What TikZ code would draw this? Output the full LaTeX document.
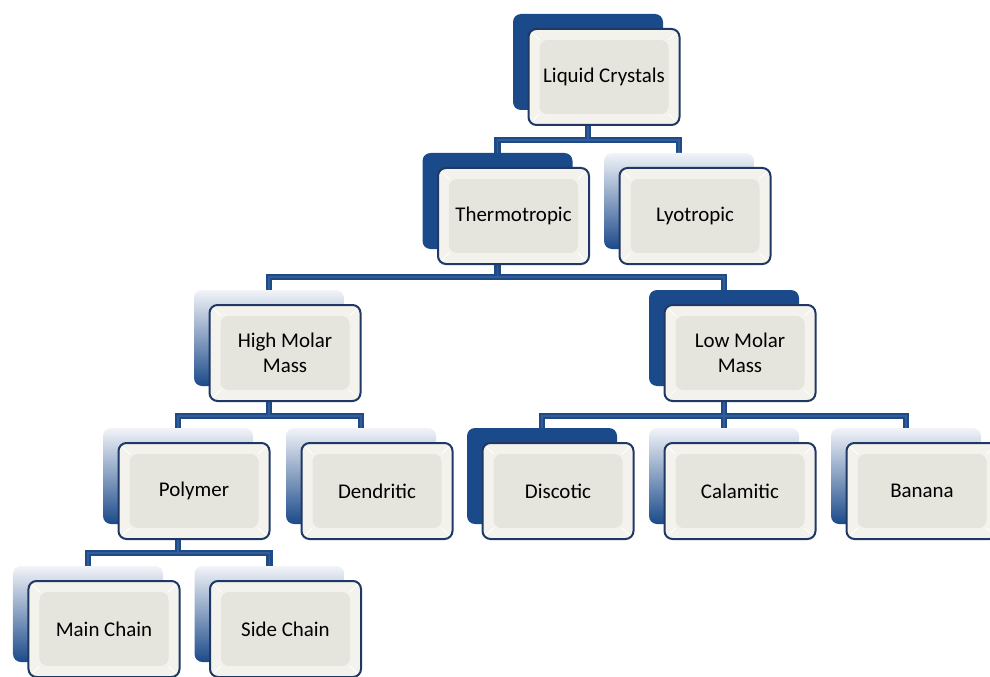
\documentclass[tikz,border=0pt]{standalone}
\usepackage{fontspec}
\setmainfont{Carlito}
\usetikzlibrary{backgrounds}
\definecolor{navy}{RGB}{31,56,100}
\definecolor{boxdark}{RGB}{27,74,138}
\definecolor{linkdark}{RGB}{30,74,134}
\definecolor{linklight}{RGB}{52,92,152}
\definecolor{ring}{RGB}{243,242,237}
\definecolor{face}{RGB}{229,228,221}
\definecolor{paleblue}{RGB}{242,244,248}

\tikzset{
  back/.style={rounded corners=8bp, minimum width=150bp, minimum height=96bp, inner sep=0pt},
  backdark/.style={back, fill=boxdark},
  backlight/.style={back, top color=paleblue, bottom color=boxdark},
  front/.style={rounded corners=8bp, minimum width=151bp, minimum height=96bp, inner sep=0pt,
    draw=navy, line width=2bp, fill=ring, align=center, font=\fontsize{21}{25}\selectfont,
    path picture={
      \fill[face] ([shift={(11bp,-11bp)}]path picture bounding box.north west) rectangle ([shift={(-11bp,11bp)}]path picture bounding box.south east);
      \draw[white, line width=0.8bp] (path picture bounding box.north west) -- ++(11bp,-11bp)
        (path picture bounding box.north east) -- ++(-11bp,-11bp)
        (path picture bounding box.south west) -- ++(11bp,11bp)
        (path picture bounding box.south east) -- ++(-11bp,11bp);
    }},
  link/.style={line width=1.2bp, draw=linklight, preaction={draw=linkdark, line width=6.5bp}}
}

\begin{document}
\begin{tikzpicture}[x=1bp, y=-1bp]
\useasboundingbox (0,0) rectangle (990,677);
\clip (0,0) rectangle (990,677);

% shadow boxes
\node[backdark]  (lcb) at (588,62) {};
\node[backdark]  (thb) at (497.5,201) {};
\node[backlight] (lyb) at (679,201) {};
\node[backlight] (hmb) at (269,338) {};
\node[backdark]  (lmb) at (724,338) {};
\node[backlight] (pob) at (178,476) {};
\node[backlight] (deb) at (361,476) {};
\node[backdark]  (dib) at (542,476) {};
\node[backlight] (cab) at (724,476) {};
\node[backlight] (bab) at (906,476) {};
\node[backlight] (mcb) at (88,614) {};
\node[backlight] (scb) at (269.5,614) {};

% front boxes
\node[front] (lc) at ([shift={(16,15)}]lcb.center) {Liquid Crystals};
\node[front] (th) at ([shift={(16,15)}]thb.center) {Thermotropic};
\node[front] (ly) at ([shift={(16,15)}]lyb.center) {Lyotropic};
\node[front] (hm) at ([shift={(16,15)}]hmb.center) {High Molar\\Mass};
\node[front] (lm) at ([shift={(16,15)}]lmb.center) {Low Molar\\Mass};
\node[front] (po) at ([shift={(16,15)}]pob.center) {Polymer};
\node[front] (de) at ([shift={(16,15)}]deb.center) {Dendritic};
\node[front] (di) at ([shift={(16,15)}]dib.center) {Discotic};
\node[front] (ca) at ([shift={(16,15)}]cab.center) {Calamitic};
\node[front] (ba) at ([shift={(16,15)}]bab.center) {Banana};
\node[front] (mc) at ([shift={(16,15)}]mcb.center) {Main Chain};
\node[front] (sc) at ([shift={(16,15)}]scb.center) {Side Chain};

% connectors
\begin{pgfonlayer}{background}
\draw[link] (lcb.center) -- (lcb.center |- 0,140)
  (thb.north) |- (lcb.center |- 0,140) -| (lyb.north)
  (thb.center) -- (thb.center |- 0,277)
  (hmb.north) |- (thb.center |- 0,277) -| (lmb.north)
  (hmb.center) -- (hmb.center |- 0,416)
  (pob.north) |- (hmb.center |- 0,416) -| (deb.north)
  (lmb.center) -- (cab.north)
  (dib.north) |- (bab.north |- 0,416) -- (bab.north)
  (pob.center) -- (pob.center |- 0,553)
  (mcb.north) |- (pob.center |- 0,553) -| (scb.north);
\end{pgfonlayer}
\end{tikzpicture}
\end{document}
